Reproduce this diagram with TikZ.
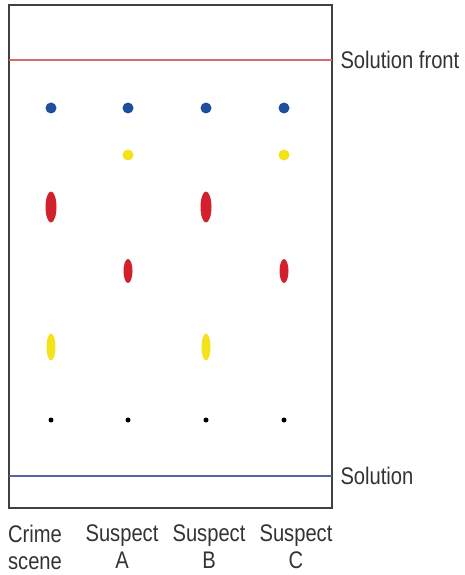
\documentclass[tikz,border=0pt]{standalone}
\usepackage{fontspec}
\setmainfont[FakeStretch=0.84]{Liberation Sans}
\usetikzlibrary{shapes.geometric}
\definecolor{spotblue}{HTML}{1E4F9E}
\definecolor{spotyellow}{HTML}{F4E21A}
\definecolor{spotred}{HTML}{D3202E}
\definecolor{frontred}{HTML}{D46A6A}
\definecolor{baseblue}{HTML}{5463A3}
\begin{document}
\begin{tikzpicture}[
                x=1pt, y=-1pt,
                spot/.style={ellipse, inner sep=0pt, draw=none},
                blue spot/.style={spot, fill=spotblue, minimum width=11pt, minimum height=11pt},
                yellow dot/.style={spot, fill=spotyellow, minimum width=11pt, minimum height=11pt},
                red long/.style={spot, fill=spotred, minimum width=11pt, minimum height=31pt},
                red short/.style={spot, fill=spotred, minimum width=9pt, minimum height=24pt},
                yellow long/.style={spot, fill=spotyellow, minimum width=9pt, minimum height=27pt},
                origin/.style={spot, fill=black, minimum width=5pt, minimum height=5pt},
                every node/.style={font=\fontsize{24}{27}\selectfont, text=black!80}
            ]
                \useasboundingbox (0,0) rectangle (464,575);
                \coordinate (tl) at (9,5);
                \coordinate (br) at (332,508);
                \draw [black!75, line width=1.2pt] (tl) rectangle (br);
                % solvent lines
                \coordinate (fl) at (9,60);  \coordinate (fr) at (332,60);
                \coordinate (sl) at (9,476); \coordinate (sr) at (332,476);
                \draw [frontred, line width=1.2pt] (fl) -- (fr);
                \draw [baseblue, line width=1.1pt] (sl) -- (sr);
                \node [anchor=west] (front) at (337,60) {Solution front};
                \node [anchor=west] (solution) at (337,476) {Solution};
                % spots
                \foreach \x/\n in {51/crime, 128/susa, 206/susb, 284/susc} {
                    \node [blue spot] (\n-blue) at (\x,108) {};
                    \node [origin] (\n-start) at (\x,420) {};
                }
                \node [yellow dot] (susa-yellow) at (128,155) {};
                \node [yellow dot] (susc-yellow) at (284,155) {};
                \node [red long] (crime-red) at (51,207) {};
                \node [red long] (susb-red) at (206,207) {};
                \node [red short] (susa-red) at (128,271) {};
                \node [red short] (susc-red) at (284,271) {};
                \node [yellow long] (crime-yellow) at (51,347) {};
                \node [yellow long] (susb-yellow) at (206,347) {};
                % lane labels
                \node [align=center, inner sep=0pt] (crime) at (35,547) {Crime\\scene};
                \node [align=center, inner sep=0pt] (susa) at (122,547) {Suspect\\A};
                \node [align=center, inner sep=0pt] (susb) at (209,547) {Suspect\\B};
                \node [align=center, inner sep=0pt] (susc) at (296,547) {Suspect\\C};
\end{tikzpicture}
\end{document}
